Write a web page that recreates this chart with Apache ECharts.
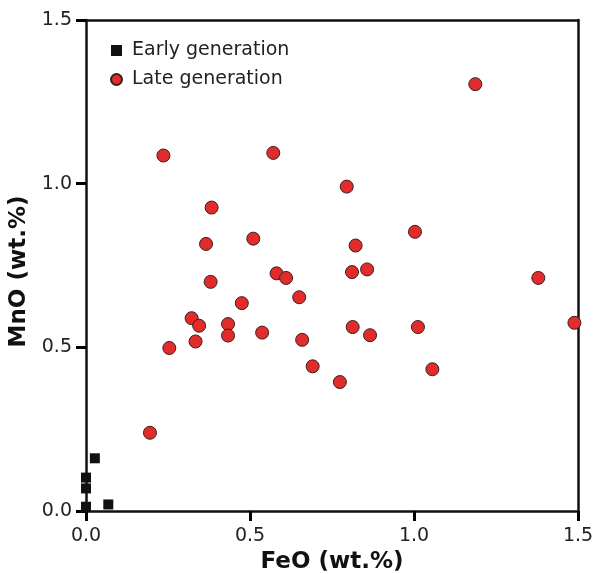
<!DOCTYPE html>
<html><head><meta charset="utf-8">
<script src="https://cdn.jsdelivr.net/npm/echarts@6/dist/echarts.min.js"></script>
<style>html,body{margin:0;padding:0;background:#fff}#c{width:595px;height:574px}</style>
</head><body><div id="c"></div>
<script>
var seriesNames = ['Early generation', 'Late generation'];
var earlyFeO = [0.027, 0.000, 0.000, 0.000, 0.068];
var earlyMnO = [0.161, 0.102, 0.069, 0.013, 0.020];
var lateFeO = [0.236, 0.571, 1.187, 0.795, 0.383, 0.510, 0.366, 0.581, 0.610, 0.380, 0.650, 0.475, 0.322, 0.345, 0.433, 0.433, 0.537, 0.334, 0.254, 1.003, 0.822, 0.811, 0.857, 1.379, 1.489, 0.813, 1.012, 0.659, 0.866, 0.691, 1.056, 0.774, 0.195];
var lateMnO = [1.086, 1.094, 1.304, 0.991, 0.927, 0.832, 0.816, 0.726, 0.712, 0.700, 0.653, 0.635, 0.589, 0.566, 0.571, 0.536, 0.545, 0.518, 0.498, 0.853, 0.811, 0.730, 0.738, 0.712, 0.575, 0.562, 0.562, 0.523, 0.537, 0.442, 0.433, 0.394, 0.239];
var xTickLabels = ['0.0', '0.5', '1.0', '1.5'];
var yTickLabels = ['0.0', '0.5', '1.0', '1.5'];
var xTitle = 'FeO (wt.%)';
var yTitle = 'MnO (wt.%)';

function zip(a, b) { return a.map(function (v, i) { return [v, b[i]]; }); }
function tickFmt(labels) { return function (v) { var i = Math.round(v / 0.5); return labels[i] !== undefined ? labels[i] : ''; }; }

var ink = '#111111';
var font = 'DejaVu Sans';
var lineW = 2.5;
var frameAxis = {
  type: 'value', min: 0, max: 1.5, interval: 0.5,
  axisLine: {show: true, onZero: false, lineStyle: {color: ink, width: lineW}},
  axisTick: {show: false}, axisLabel: {show: false}, splitLine: {show: false}
};
var chart = echarts.init(document.getElementById('c'), null, {renderer: 'canvas'});
chart.setOption({
  animation: false,
  backgroundColor: '#ffffff',
  grid: {left: 86, right: 17, top: 20, bottom: 63, containLabel: false, outerBoundsMode: 'none', show: false},
  legend: {
    orient: 'vertical', left: 110, top: 41, padding: 0, itemGap: 10,
    itemWidth: 11, itemHeight: 11,
    textStyle: {fontFamily: font, fontSize: 19, color: '#222', padding: [0, 0, 0, 5]},
    data: [
      {name: seriesNames[0], icon: 'rect'},
      {name: seriesNames[1], icon: 'circle'}
    ]
  },
  xAxis: [{
    type: 'value', min: 0, max: 1.5, interval: 0.5, position: 'bottom',
    name: xTitle, nameLocation: 'middle', nameGap: 35,
    nameTextStyle: {fontFamily: font, fontSize: 23, fontWeight: 'bold', color: '#111'},
    axisLine: {show: true, onZero: false, lineStyle: {color: ink, width: lineW}},
    axisTick: {show: true, length: 10, lineStyle: {color: '#000000', width: 3}},
    axisLabel: {show: true, fontFamily: font, fontSize: 19, color: '#222', margin: 16, formatter: tickFmt(xTickLabels)},
    splitLine: {show: false}
  }, Object.assign({position: 'top'}, frameAxis)],
  yAxis: [{
    type: 'value', min: 0, max: 1.5, interval: 0.5, position: 'left',
    name: yTitle, nameLocation: 'middle', nameGap: 50, nameRotate: 90,
    nameTextStyle: {fontFamily: font, fontSize: 23, fontWeight: 'bold', color: '#111', padding: [0, 12, 0, 0]},
    axisLine: {show: true, onZero: false, lineStyle: {color: ink, width: lineW}},
    axisTick: {show: true, length: 10, lineStyle: {color: '#000000', width: 3}},
    axisLabel: {show: true, fontFamily: font, fontSize: 19, color: '#222', margin: 14, formatter: tickFmt(yTickLabels)},
    splitLine: {show: false}
  }, Object.assign({position: 'right'}, frameAxis)],
  series: [
    {
      name: seriesNames[0], type: 'scatter', symbol: 'rect', symbolSize: 10,
      itemStyle: {color: '#111111', borderColor: '#111111', borderWidth: 0, opacity: 1},
      data: zip(earlyFeO, earlyMnO), z: 3
    },
    {
      name: seriesNames[1], type: 'scatter', symbol: 'circle', symbolSize: 13,
      itemStyle: {color: '#e22b2b', borderColor: '#3a2020', borderWidth: 1, opacity: 1},
      data: zip(lateFeO, lateMnO), z: 2
    }
  ]
});
</script></body></html>
